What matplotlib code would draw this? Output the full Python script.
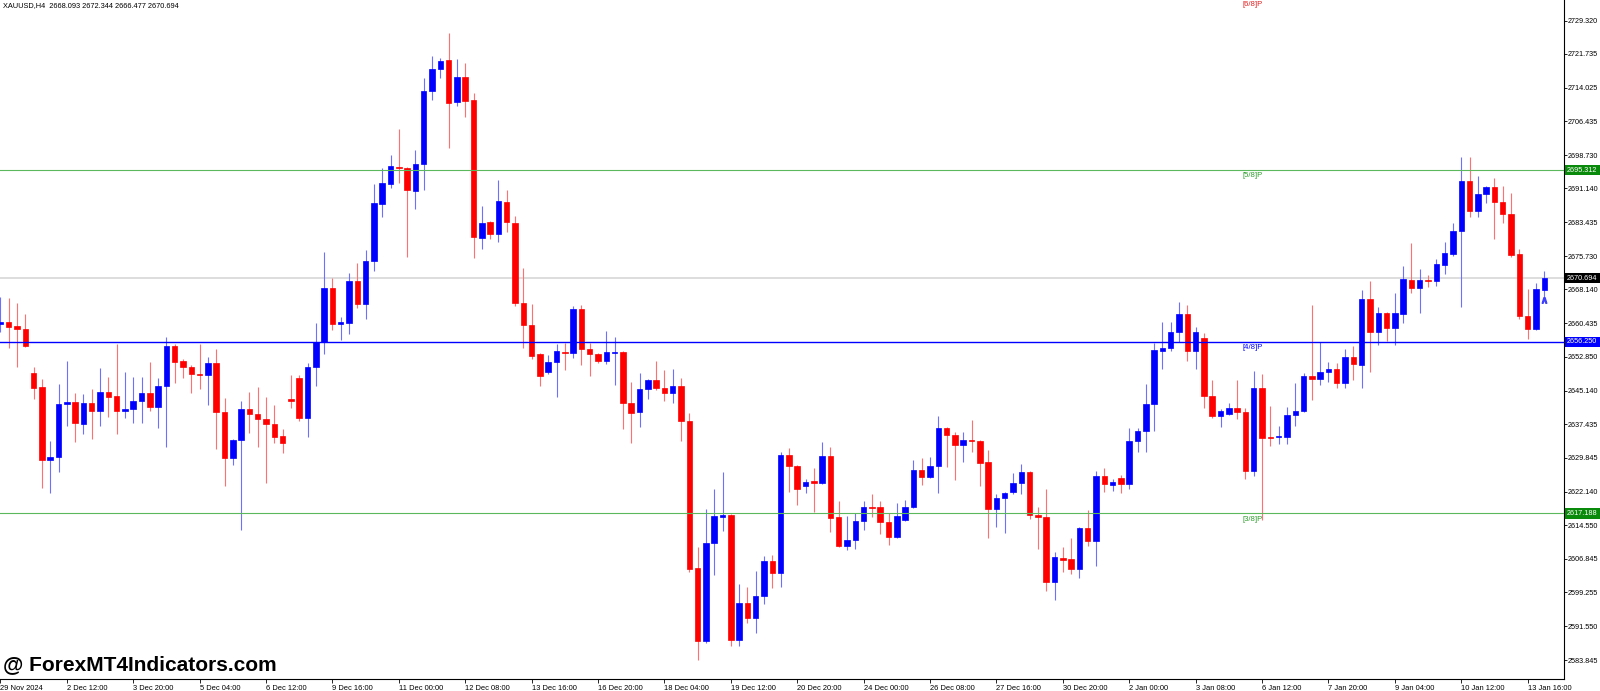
import matplotlib
matplotlib.use('Agg')
import matplotlib.pyplot as plt
import matplotlib.transforms as mtransforms
from matplotlib.patches import Rectangle
import numpy as np

plt.rcParams['font.family'] = ['Liberation Sans', 'DejaVu Sans']

# XAUUSD H4 candles (oldest first)
opens = [2660.3, 2660.8, 2659.8, 2659.2, 2649.1, 2646.0, 2629.4, 2630.0, 2642.1, 2642.6,
         2637.5, 2642.3, 2640.5, 2644.8, 2643.9, 2640.5, 2641.0, 2642.8, 2644.6, 2641.4,
         2646.2, 2655.3, 2651.9, 2650.5, 2648.9, 2648.7, 2651.4, 2640.3, 2629.8, 2633.9,
         2641.0, 2639.8, 2638.7, 2637.5, 2634.8, 2643.2, 2648.0, 2638.9, 2650.5, 2656.2,
         2668.5, 2660.3, 2660.5, 2670.1, 2664.8, 2674.6, 2687.6, 2692.1, 2696.0, 2695.8,
         2690.6, 2696.7, 2713.3, 2718.3, 2720.4, 2710.8, 2716.5, 2711.3, 2679.9, 2683.5,
         2680.8, 2688.1, 2683.3, 2665.1, 2660.1, 2653.5, 2649.4, 2651.7, 2653.9, 2653.7,
         2663.7, 2654.6, 2653.5, 2651.9, 2653.7, 2653.9, 2642.3, 2640.3, 2645.5, 2647.6,
         2645.7, 2644.6, 2646.2, 2638.2, 2604.8, 2588.2, 2610.5, 2616.4, 2616.8, 2588.4,
         2596.8, 2593.4, 2598.4, 2606.4, 2603.6, 2630.5, 2628.0, 2623.4, 2624.6, 2624.1,
         2630.3, 2616.4, 2609.8, 2611.2, 2615.5, 2618.7, 2618.7, 2615.3, 2611.8, 2615.7,
         2618.7, 2627.1, 2625.5, 2628.0, 2636.6, 2635.0, 2632.8, 2633.9, 2633.7, 2628.9,
         2618.2, 2620.7, 2622.1, 2624.1, 2626.6, 2616.8, 2616.4, 2601.6, 2607.1, 2606.8,
         2604.6, 2613.9, 2610.9, 2625.7, 2623.7, 2625.3, 2623.9, 2633.7, 2636.0, 2642.1,
         2654.2, 2654.8, 2658.5, 2662.6, 2654.2, 2657.1, 2643.9, 2639.4, 2639.8, 2641.2,
         2640.3, 2626.9, 2645.7, 2634.6, 2634.6, 2634.6, 2639.6, 2640.5, 2648.5, 2647.8,
         2649.4, 2650.1, 2646.9, 2652.8, 2651.0, 2666.0, 2658.5, 2662.8, 2659.4, 2662.6,
         2670.3, 2668.5, 2670.3, 2670.1, 2673.7, 2676.2, 2681.5, 2692.8, 2686.0, 2689.9,
         2691.5, 2688.1, 2685.3, 2676.2, 2662.1, 2659.2, 2668.093]
highs = [2666.4, 2666.2, 2665.1, 2662.6, 2650.5, 2647.8, 2633.7, 2646.6, 2651.9, 2644.6,
         2644.4, 2645.5, 2650.3, 2648.2, 2655.7, 2649.4, 2648.2, 2648.2, 2651.7, 2648.0,
         2657.3, 2655.7, 2652.3, 2651.0, 2655.7, 2652.8, 2654.6, 2643.5, 2634.1, 2642.8,
         2644.8, 2646.0, 2643.7, 2641.9, 2636.4, 2648.7, 2648.7, 2651.4, 2660.5, 2676.7,
         2670.8, 2661.9, 2671.9, 2674.2, 2677.1, 2692.1, 2695.8, 2698.7, 2704.7, 2696.0,
         2699.9, 2716.3, 2721.3, 2720.8, 2726.5, 2720.6, 2719.7, 2712.8, 2687.1, 2683.7,
         2693.1, 2690.8, 2684.9, 2673.0, 2664.8, 2653.7, 2653.2, 2655.7, 2656.0, 2664.4,
         2664.6, 2656.0, 2653.7, 2658.7, 2657.3, 2654.2, 2647.1, 2649.1, 2647.8, 2651.9,
         2649.8, 2650.1, 2648.0, 2640.0, 2609.6, 2618.2, 2622.8, 2626.6, 2617.1, 2601.1,
         2600.5, 2604.1, 2607.5, 2607.7, 2631.2, 2632.1, 2628.2, 2625.0, 2627.5, 2633.5,
         2632.3, 2620.0, 2616.6, 2617.3, 2620.0, 2621.6, 2620.0, 2617.3, 2619.6, 2620.3,
         2629.4, 2629.8, 2630.0, 2639.4, 2636.9, 2635.7, 2635.7, 2638.5, 2633.9, 2631.6,
         2621.6, 2622.1, 2626.4, 2628.4, 2626.9, 2618.7, 2622.8, 2608.4, 2609.6, 2611.6,
         2614.1, 2618.0, 2626.9, 2627.5, 2625.0, 2625.9, 2636.6, 2636.6, 2646.6, 2656.0,
         2660.8, 2660.8, 2665.3, 2664.6, 2659.6, 2658.2, 2647.6, 2641.0, 2642.3, 2647.6,
         2641.2, 2649.6, 2648.9, 2641.6, 2637.1, 2641.4, 2646.9, 2649.1, 2664.6, 2656.2,
         2651.7, 2651.4, 2654.6, 2655.3, 2668.0, 2670.1, 2664.2, 2663.0, 2667.3, 2673.5,
         2678.7, 2672.8, 2671.4, 2675.1, 2679.0, 2683.3, 2698.3, 2698.3, 2694.0, 2691.7,
         2693.5, 2691.7, 2690.1, 2677.4, 2668.3, 2669.6, 2672.344]
lows = [2658.5, 2654.8, 2650.5, 2655.1, 2643.2, 2623.0, 2621.8, 2626.6, 2637.1, 2633.5,
        2635.3, 2634.1, 2637.1, 2639.1, 2635.3, 2638.9, 2637.8, 2637.8, 2640.5, 2636.6,
        2632.3, 2646.9, 2648.0, 2644.6, 2645.5, 2641.9, 2631.9, 2623.4, 2628.2, 2613.4,
        2635.5, 2632.3, 2624.1, 2633.2, 2630.9, 2641.2, 2638.2, 2634.6, 2646.2, 2653.5,
        2658.9, 2656.7, 2658.0, 2663.9, 2661.4, 2672.4, 2684.6, 2691.2, 2692.4, 2675.5,
        2686.5, 2690.8, 2711.3, 2716.3, 2700.3, 2709.9, 2707.4, 2675.3, 2677.4, 2679.6,
        2679.0, 2681.2, 2664.4, 2654.8, 2652.3, 2646.2, 2648.9, 2643.7, 2649.8, 2652.6,
        2651.0, 2648.5, 2651.4, 2651.2, 2646.4, 2636.4, 2633.2, 2636.9, 2643.2, 2645.3,
        2642.8, 2642.3, 2633.7, 2603.9, 2583.9, 2587.7, 2603.2, 2613.2, 2587.0, 2587.0,
        2592.3, 2590.0, 2596.6, 2600.2, 2600.5, 2622.1, 2619.1, 2621.8, 2617.5, 2623.9,
        2613.0, 2609.6, 2608.9, 2609.1, 2613.4, 2616.4, 2612.5, 2610.0, 2611.6, 2615.5,
        2618.4, 2623.7, 2625.3, 2621.8, 2627.8, 2624.8, 2628.9, 2631.2, 2623.4, 2611.6,
        2614.1, 2612.7, 2621.6, 2621.6, 2615.9, 2609.1, 2599.6, 2597.5, 2603.9, 2603.4,
        2602.5, 2609.8, 2605.2, 2622.1, 2622.3, 2621.8, 2622.8, 2631.2, 2631.2, 2636.0,
        2650.1, 2654.2, 2656.2, 2651.9, 2650.1, 2641.2, 2638.9, 2636.9, 2639.6, 2638.7,
        2625.0, 2625.7, 2615.7, 2632.5, 2633.0, 2633.0, 2637.1, 2640.3, 2643.0, 2646.4,
        2647.1, 2645.7, 2645.7, 2647.6, 2645.7, 2649.4, 2655.5, 2656.4, 2655.5, 2660.5,
        2667.3, 2662.8, 2668.7, 2668.9, 2671.7, 2675.8, 2664.2, 2684.6, 2684.6, 2687.8,
        2679.6, 2683.3, 2675.5, 2661.4, 2656.9, 2658.9, 2666.477]
closes = [2660.8, 2659.6, 2659.2, 2655.3, 2645.7, 2629.4, 2630.0, 2642.1, 2642.6, 2637.8,
          2642.3, 2640.5, 2644.8, 2643.7, 2640.5, 2641.0, 2642.8, 2644.6, 2641.4, 2646.2,
          2655.3, 2651.7, 2650.5, 2648.9, 2648.7, 2651.4, 2640.3, 2629.8, 2633.9, 2641.0,
          2639.8, 2638.7, 2637.5, 2634.6, 2633.2, 2642.8, 2638.9, 2650.5, 2656.2, 2668.5,
          2660.3, 2660.8, 2670.1, 2664.8, 2674.6, 2687.8, 2692.4, 2696.2, 2695.8, 2690.8,
          2696.7, 2713.3, 2718.3, 2720.1, 2710.6, 2716.5, 2711.0, 2680.1, 2683.3, 2680.8,
          2688.3, 2683.5, 2665.1, 2660.1, 2653.0, 2648.5, 2651.7, 2654.2, 2653.7, 2663.7,
          2654.6, 2653.5, 2651.9, 2653.9, 2653.9, 2642.3, 2640.0, 2645.5, 2647.6, 2645.7,
          2644.6, 2646.2, 2638.2, 2604.6, 2588.2, 2610.5, 2616.6, 2616.8, 2588.4, 2596.8,
          2593.4, 2598.4, 2606.4, 2603.6, 2630.5, 2628.0, 2622.8, 2624.4, 2624.1, 2630.3,
          2616.2, 2609.8, 2611.2, 2615.5, 2618.7, 2618.4, 2615.3, 2611.8, 2616.6, 2618.7,
          2627.1, 2625.5, 2628.0, 2636.6, 2635.0, 2632.8, 2633.9, 2633.7, 2628.7, 2618.2,
          2620.7, 2621.8, 2624.1, 2626.6, 2616.8, 2616.4, 2601.6, 2607.3, 2606.6, 2604.6,
          2613.9, 2610.9, 2625.7, 2623.9, 2624.4, 2623.9, 2633.7, 2636.0, 2642.1, 2654.4,
          2654.8, 2658.5, 2662.6, 2654.2, 2658.5, 2643.9, 2639.4, 2640.5, 2641.2, 2640.3,
          2626.9, 2645.7, 2634.4, 2634.4, 2634.8, 2639.6, 2640.5, 2648.5, 2647.8, 2649.4,
          2650.1, 2646.9, 2652.8, 2651.2, 2666.0, 2658.5, 2662.8, 2659.4, 2662.8, 2670.5,
          2668.5, 2670.3, 2670.1, 2673.9, 2676.4, 2681.5, 2692.8, 2686.0, 2689.9, 2691.5,
          2688.1, 2685.3, 2676.0, 2662.1, 2659.2, 2668.3, 2670.694]

date_labels = ['29 Nov 2024', '2 Dec 12:00', '3 Dec 20:00', '5 Dec 04:00', '6 Dec 12:00',
               '9 Dec 16:00', '11 Dec 00:00', '12 Dec 08:00', '13 Dec 16:00', '16 Dec 20:00',
               '18 Dec 04:00', '19 Dec 12:00', '20 Dec 20:00', '24 Dec 00:00', '26 Dec 08:00',
               '27 Dec 16:00', '30 Dec 20:00', '2 Jan 00:00', '3 Jan 08:00', '6 Jan 12:00',
               '7 Jan 20:00', '9 Jan 04:00', '10 Jan 12:00', '13 Jan 16:00']
bars_per_label = 8

price_ticks = [2729.320, 2721.735, 2714.025, 2706.435, 2698.730, 2691.140, 2683.435,
               2675.730, 2668.140, 2660.435, 2652.850, 2645.140, 2637.435, 2629.845,
               2622.140, 2614.550, 2606.845, 2599.255, 2591.550, 2583.845]

# Murrey math levels
mm_values = [2734.374, 2695.312, 2656.250, 2617.188]
mm_names = ['[6/8]P', '[5/8]P', '[4/8]P', '[3/8]P']
mm_colors = ['#e02020', '#2e9e2e', '#0000ff', '#2e9e2e']
mm_line_colors = [None, '#5cb85c', '#0000ff', '#5cb85c']
mm_box_colors = [None, '#0a8a0a', '#0000ff', '#0a8a0a']

symbol = 'XAUUSD,H4'
last_price = closes[-1]

o = np.array(opens)
h = np.array(highs)
l = np.array(lows)
c = np.array(closes)
x = np.arange(len(o))
up = c >= o

fig = plt.figure(figsize=(16, 6.91), dpi=100)
fig.patch.set_facecolor('white')
ax = fig.add_axes([0, 12 / 691, 1564 / 1600, 679 / 691])
ax.set_xlim(-0.05, 188.38)
ax.set_ylim(2579.53, 2734.0)

# wicks then bodies
ax.vlines(x[up], l[up], h[up], color='#6f6fff', lw=0.8, zorder=2)
ax.vlines(x[~up], l[~up], h[~up], color='#ff7070', lw=0.8, zorder=2)
ax.bar(x[up], c[up] - o[up], bottom=o[up], width=0.66, color='#0000ff',
       edgecolor='#0000ff', linewidth=0.5, zorder=3)
ax.bar(x[~up], c[~up] - o[~up], bottom=o[~up], width=0.66, color='#ff0000',
       edgecolor='#ff0000', linewidth=0.5, zorder=3)

# current price line
ax.axhline(last_price, color='#dddddd', lw=1.4, zorder=1)

lab_size = 5.2
blend = mtransforms.blended_transform_factory(ax.transAxes, ax.transData)
for val, name, col, lcol, bcol in zip(mm_values, mm_names, mm_colors, mm_line_colors, mm_box_colors):
    if lcol is not None:
        ax.axhline(val, color=lcol, lw=1.0 if lcol == '#0000ff' else 0.8, zorder=4)
        ax.add_patch(Rectangle((1.0, val - 1.15), 0.024, 2.3, transform=blend,
                               facecolor=bcol, edgecolor='none', clip_on=False))
        ax.text(1.0 + 3 / 1564, val, f'{val:.3f}', transform=blend, color='white',
                fontsize=lab_size, ha='left', va='center', clip_on=False)
    ax.text(149.7, val - 0.5, name, color=col, fontsize=5.6, ha='left', va='top',
            clip_on=True)

# black box for last price
ax.add_patch(Rectangle((1.0, last_price - 1.15), 0.024, 2.3, transform=blend,
                       facecolor='black', edgecolor='none', clip_on=False))
ax.text(1.0 + 3 / 1564, last_price, f'{last_price:.3f}', transform=blend, color='white',
        fontsize=lab_size, ha='left', va='center', clip_on=False)

# small ask marker under the last bar
ax.plot(x[-1], l[-1] - 0.8, marker=r'$\wedge$', color='#4040ff', ms=4, zorder=5)

# axes styling
for side in ['left', 'top']:
    ax.spines[side].set_visible(False)
for side in ['right', 'bottom']:
    ax.spines[side].set_color('black')
    ax.spines[side].set_linewidth(0.8)

ax.yaxis.tick_right()
ax.set_yticks(price_ticks)
ax.set_yticklabels([f'{p:.3f}' for p in price_ticks])
ax.tick_params(axis='y', direction='out', length=2, width=0.6, labelsize=lab_size, pad=1)

xt = np.arange(len(date_labels)) * bars_per_label
ax.set_xticks(xt)
ax.set_xticklabels(date_labels, ha='left')
ax.tick_params(axis='x', direction='out', length=3, width=0.6, labelsize=5.4, pad=1)

fig.text(3 / 1600, 1 - 6 / 691,
         f'{symbol}  {opens[-1]:.3f} {highs[-1]:.3f} {lows[-1]:.3f} {closes[-1]:.3f}',
         fontsize=5.3, ha='left', va='center', color='black')

fig.text(3 / 1600, 1 - 665 / 691, '@ ForexMT4Indicators.com', fontsize=15,
         fontweight='bold', ha='left', va='center', color='black')

fig.savefig('out.png', dpi=100, facecolor='white')
